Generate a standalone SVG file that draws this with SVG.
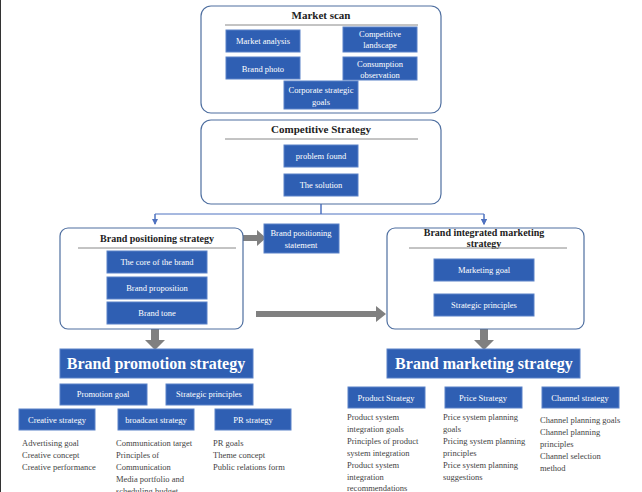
<svg xmlns="http://www.w3.org/2000/svg" width="642" height="492" viewBox="0 0 642 492">
<style>
.fr{fill:#fff;stroke:#4f6fa0;stroke-width:1.2}
.b{fill:#2f5fb3;stroke:#5b82c8;stroke-width:1}
.t{font-family:"Liberation Serif",serif;font-size:8.5px;fill:#fff;text-anchor:middle}
.h{font-family:"Liberation Serif",serif;font-size:11px;font-weight:bold;fill:#222;text-anchor:middle}
.big{font-family:"Liberation Serif",serif;font-size:16px;font-weight:bold;fill:#fff;text-anchor:middle}
.l{font-family:"Liberation Serif",serif;font-size:8.5px;fill:#444}
.ln{stroke:#888;stroke-width:1}
</style>
<defs>
<marker id="a" markerWidth="6" markerHeight="6" refX="5" refY="3" orient="auto"><path d="M0,0L6,3L0,6z" fill="#4f72c0"/></marker>
</defs>
<rect width="642" height="492" fill="#fff"/>
<line x1="0.5" y1="0" x2="0.5" y2="492" stroke="#333"/>
<g id="connectors">
<path d="M321,204V214M155,214H484M155,214V224M484,214V224" fill="none" stroke="#4f72c0" stroke-width="1" marker-end="url(#a)"/>
<path d="M321,204V214" stroke="#4f72c0"/>
<path d="M155,214V224" stroke="#4f72c0" marker-end="url(#a)"/>
<path d="M484,214V224" stroke="#4f72c0" marker-end="url(#a)"/>
<path d="M230,235h27v-5l9,8l-9,8v-5h-27z" fill="#808080"/>
<path d="M256,311h120v-5l10,8l-10,8v-5h-120z" fill="#808080"/>
<path d="M151,329h8v11h6l-10,10l-10,-10h6z" fill="#808080"/>
<path d="M480,329h8v11h6l-10,10l-10,-10h6z" fill="#808080"/>
</g>
<g id="market-scan">
<rect class="fr" x="201" y="6" width="240" height="107" rx="10"/>
<text class="h" x="321" y="19">Market scan</text>
<line class="ln" x1="225" y1="25" x2="418" y2="25"/>
<rect class="b" x="226" y="30" width="74" height="22"/><text class="t" x="263" y="44">Market analysis</text>
<rect class="b" x="343" y="27" width="74" height="25"/><text class="t" x="380" y="37">Competitive</text><text class="t" x="380" y="48">landscape</text>
<rect class="b" x="226" y="57" width="74" height="22"/><text class="t" x="263" y="72">Brand photo</text>
<rect class="b" x="343" y="57" width="74" height="23"/><text class="t" x="380" y="67">Consumption</text><text class="t" x="380" y="78">observation</text>
<rect class="b" x="284" y="81" width="74" height="28"/><text class="t" x="321" y="93">Corporate strategic</text><text class="t" x="321" y="105">goals</text>
</g>
<g id="competitive-strategy">
<rect class="fr" x="201" y="120" width="240" height="84" rx="10"/>
<text class="h" x="321" y="133">Competitive Strategy</text>
<line class="ln" x1="225" y1="139" x2="418" y2="139"/>
<rect class="b" x="284" y="145" width="74" height="22"/><text class="t" x="321" y="159">problem found</text>
<rect class="b" x="284" y="174" width="74" height="22"/><text class="t" x="321" y="188">The solution</text>
</g>
<g id="brand-positioning">
<rect class="fr" x="60" y="228" width="183" height="101" rx="8"/>
<text class="h" x="157" y="242" style="font-size:10px">Brand positioning strategy</text>
<line class="ln" x1="78" y1="248" x2="236" y2="248"/>
<rect class="b" x="107" y="251" width="100" height="22"/><text class="t" x="157" y="265">The core of the brand</text>
<rect class="b" x="107" y="277" width="100" height="22"/><text class="t" x="157" y="291">Brand proposition</text>
<rect class="b" x="107" y="302" width="100" height="22"/><text class="t" x="157" y="316">Brand tone</text>
</g>
<g id="positioning-statement">
<rect class="b" x="264" y="224" width="75" height="29"/><text class="t" x="301" y="236">Brand positioning</text><text class="t" x="301" y="248">statement</text>
</g>
<g id="integrated-marketing">
<rect class="fr" x="387" y="228" width="197" height="101" rx="8"/>
<text class="h" x="484" y="236" style="font-size:10px">Brand integrated marketing</text>
<text class="h" x="484" y="247" style="font-size:10px">strategy</text>
<line class="ln" x1="409" y1="248" x2="567" y2="248"/>
<rect class="b" x="434" y="259" width="100" height="22"/><text class="t" x="484" y="273">Marketing goal</text>
<rect class="b" x="434" y="294" width="100" height="22"/><text class="t" x="484" y="308">Strategic principles</text>
</g>
<g id="brand-promotion">
<rect class="b" x="60" y="349" width="193" height="29"/><text class="big" x="156" y="369">Brand promotion strategy</text>
<rect class="b" x="60" y="384" width="87" height="21"/><text class="t" x="103" y="397">Promotion goal</text>
<rect class="b" x="166" y="384" width="87" height="21"/><text class="t" x="209" y="397">Strategic principles</text>
<rect class="b" x="19" y="409" width="76" height="21"/><text class="t" x="57" y="423">Creative strategy</text>
<rect class="b" x="118" y="409" width="76" height="21"/><text class="t" x="156" y="423">broadcast strategy</text>
<rect class="b" x="215" y="409" width="76" height="21"/><text class="t" x="253" y="423">PR strategy</text>
<text class="l" x="22" y="446">Advertising goal</text><text class="l" x="22" y="458">Creative concept</text><text class="l" x="22" y="470">Creative performance</text>
<text class="l" x="116" y="446">Communication target</text><text class="l" x="116" y="458">Principles of</text><text class="l" x="116" y="470">Communication</text><text class="l" x="116" y="482">Media portfolio and</text><text class="l" x="116" y="494">scheduling budget</text>
<text class="l" x="213" y="446">PR goals</text><text class="l" x="213" y="458">Theme concept</text><text class="l" x="213" y="470">Public relations form</text>
</g>
<g id="brand-marketing">
<rect class="b" x="387" y="349" width="193" height="29"/><text class="big" x="484" y="369">Brand marketing strategy</text>
<rect class="b" x="348" y="387" width="77" height="21"/><text class="t" x="386" y="401">Product Strategy</text>
<rect class="b" x="445" y="387" width="77" height="21"/><text class="t" x="483" y="401">Price Strategy</text>
<rect class="b" x="542" y="387" width="77" height="21"/><text class="t" x="580" y="401">Channel strategy</text>
<text class="l" x="347" y="420">Product system</text><text class="l" x="347" y="432">integration goals</text><text class="l" x="347" y="444">Principles of product</text><text class="l" x="347" y="456">system integration</text><text class="l" x="347" y="468">Product system</text><text class="l" x="347" y="480">integration</text><text class="l" x="347" y="491">recommendations</text>
<text class="l" x="443" y="420">Price system planning</text><text class="l" x="443" y="432">goals</text><text class="l" x="443" y="444">Pricing system planning</text><text class="l" x="443" y="456">principles</text><text class="l" x="443" y="468">Price system planning</text><text class="l" x="443" y="480">suggestions</text>
<text class="l" x="540" y="423">Channel planning goals</text><text class="l" x="540" y="435">Channel planning</text><text class="l" x="540" y="447">principles</text><text class="l" x="540" y="459">Channel selection</text><text class="l" x="540" y="471">method</text>
</g>
</svg>
